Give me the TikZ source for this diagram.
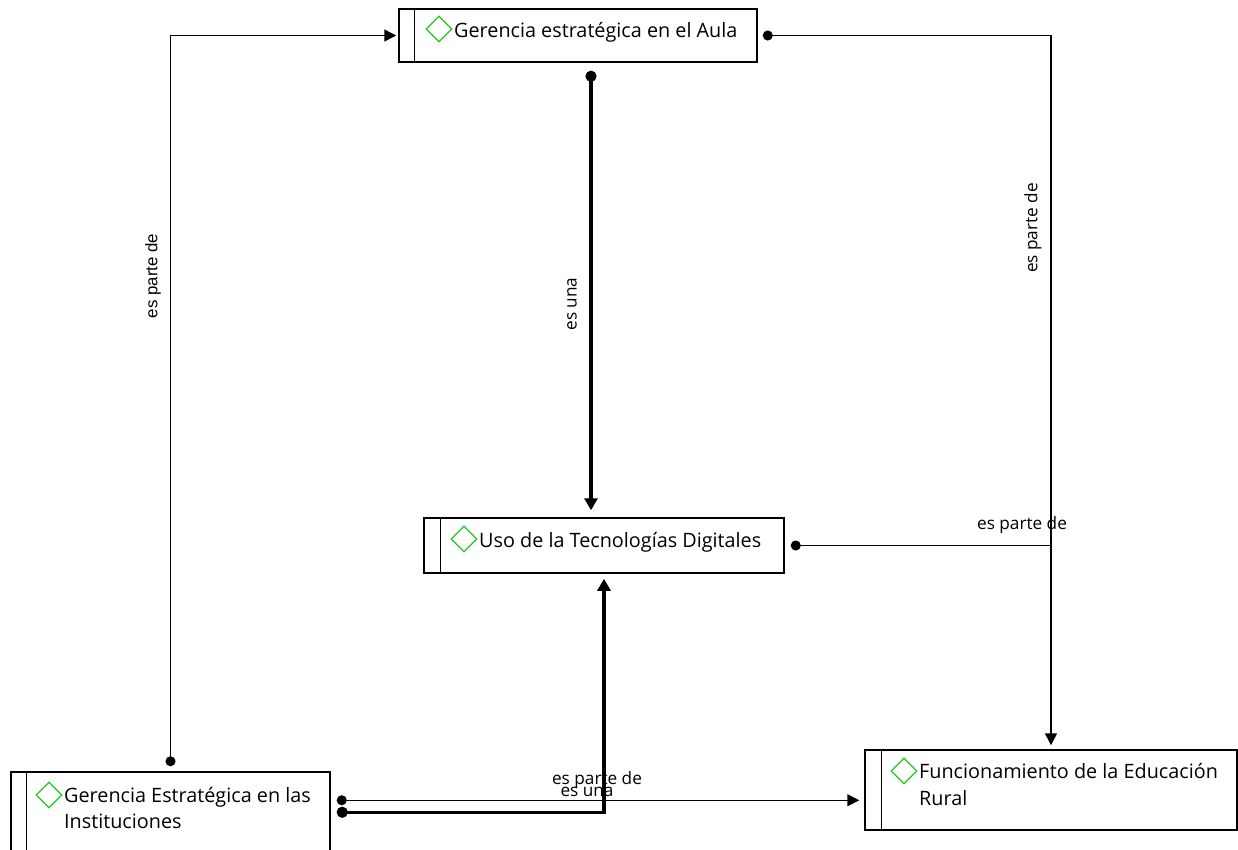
\documentclass[tikz,border=0pt]{standalone}
\usepackage{fontspec}
\setmainfont{Open Sans}
\newfontfamily\arialfont{Liberation Sans}
\usetikzlibrary{arrows.meta,shapes.geometric,calc}
\definecolor{diagreen}{RGB}{30,200,30}
\begin{document}
\begin{tikzpicture}[x=1pt,y=-1pt,
  concept/.style={draw=black, line width=1.5pt, rectangle, inner sep=0pt},
  bar/.style={draw=black, line width=1.5pt},
  dia/.style={draw=diagreen, line width=1.3pt, diamond, minimum width=26pt, minimum height=26pt, inner sep=0pt},
  ctext/.style={font=\fontsize{19.8}{26.5}\selectfont, inner sep=0pt, align=left},
  thinlink/.style={line width=1.5pt, {Circle[length=10pt,width=10pt]}-{Triangle[length=12pt,width=12pt]}},
  thinjoin/.style={line width=1.5pt, {Circle[length=10pt,width=10pt]}-},
  thicklink/.style={line width=3.5pt, {Circle[length=11pt,width=11pt]}-{Triangle[length=12pt,width=13pt]}},
  lbl/.style={font=\fontsize{17.2}{19}\selectfont, inner sep=1pt}
]
\clip (0,0) rectangle (1238,849);
\fill[white] (0,0) rectangle (1238,849);

% Concepts
\node[concept, minimum width=358pt, minimum height=53pt] (a) at (578,35.5) {};
\draw[bar] ([xshift=16pt]a.north west) -- ([xshift=16pt]a.south west);
\node[dia] (ad) at (439,29) {};
\node[ctext, anchor=base west] (at) at (454,37) {Gerencia estratégica en el Aula};

\node[concept, minimum width=360pt, minimum height=55pt] (u) at (604,545.5) {};
\draw[bar] ([xshift=17pt]u.north west) -- ([xshift=17pt]u.south west);
\node[dia] (ud) at (464,539) {};
\node[ctext, anchor=base west] (ut) at (479,547) {Uso de la Tecnologías Digitales};

\node[concept, minimum width=319pt, minimum height=104pt] (i) at (170.5,824) {};
\draw[bar] ([xshift=16pt]i.north west) -- ([xshift=16pt]i.south west);
\node[dia] (id) at (49,795) {};
\node[ctext, anchor=base west] (it) at (64,828.5) {Gerencia Estratégica en las\\Instituciones};

\node[concept, minimum width=372pt, minimum height=80pt] (r) at (1051,790) {};
\draw[bar] ([xshift=17pt]r.north west) -- ([xshift=17pt]r.south west);
\node[dia] (rd) at (904,771) {};
\node[ctext, anchor=base west] (rt) at (919,805) {Funcionamiento de la Educación\\Rural};

% Connectors
\draw[thinlink] ([xshift=5pt]a.east) -| ([yshift=4pt]r.north);
\node[lbl, rotate=90] at (1033,228) {es parte de};

\coordinate (s0) at ([xshift=6pt]u.east);
\coordinate (j) at (r.north |- s0);
\draw[thinjoin] (s0) -- (j);
\node[lbl] at (1022,525) {es parte de};

\draw[thicklink] ([xshift=13pt,yshift=-8pt]a.south) -- ([xshift=-13pt,yshift=7pt]u.north);
\node[lbl, rotate=90] at (572,304) {es una};

\draw[thinlink] ([yshift=5pt]i.north) |- ([xshift=-2pt]a.west);
\node[lbl, rotate=90, font=\arialfont\fontsize{16.8}{19}\selectfont] at (153,276) {es parte de};

\coordinate (s1) at ([xshift=6pt,yshift=-29pt]i.north east);
\coordinate (e1) at ([xshift=-5pt]r.west);
\draw[thinlink] (s1) -- (s1 -| e1);
\node[lbl] at (597,780) {es parte de};

\coordinate (s2) at ([xshift=6pt,yshift=-41pt]i.north east);
\draw[thicklink] (s2) -| ([yshift=-5pt]u.south);
\node[lbl] at (587,792) {es una};
\end{tikzpicture}
\end{document}
